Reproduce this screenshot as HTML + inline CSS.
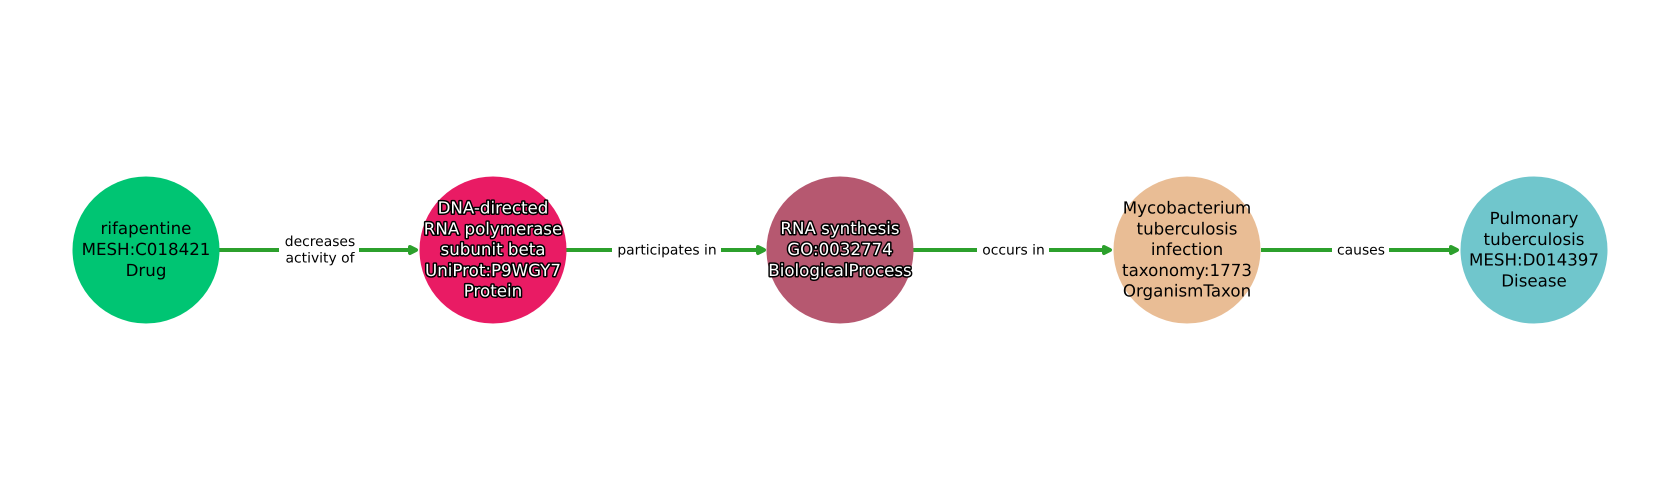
<!DOCTYPE html>
<html><head><meta charset="utf-8"><style>
html,body{margin:0;padding:0;background:#fff}
svg{display:block}
text{font-family:"DejaVu Sans",sans-serif;text-anchor:middle;text-rendering:geometricPrecision}
.n{font-size:16.67px;fill:#000}
.o{font-size:16.67px;fill:#fff;stroke:#000;stroke-width:3px;paint-order:stroke;stroke-linejoin:round}
.e{font-size:13.89px;fill:#000}
.l{stroke:#2ca02c;stroke-width:4;fill:none}
.a{fill:#2ca02c;stroke:#2ca02c;stroke-width:4;stroke-linejoin:round}
</style></head><body>
<svg width="1680" height="500" viewBox="0 0 1680 500" xmlns="http://www.w3.org/2000/svg">
<rect width="1680" height="500" fill="#fff"/>
<g class="l">
<path class="l" d="M219 250H279M359 250H410"/>
<path class="l" d="M566 250H612M721 250H758"/>
<path class="l" d="M913 250H977M1049 250H1104"/>
<path class="l" d="M1261 250H1332M1389 250H1451"/>
</g>
<path class="a" d="M410 247L416 250L410 253Z"/>
<path class="a" d="M758 247L764 250L758 253Z"/>
<path class="a" d="M1104 247L1110 250L1104 253Z"/>
<path class="a" d="M1451 247L1457 250L1451 253Z"/>
<circle cx="146" cy="250" r="73.5" fill="#00c573"/>
<circle cx="493" cy="250" r="73.5" fill="#e91b64"/>
<circle cx="840" cy="250" r="73.5" fill="#b65870"/>
<circle cx="1187" cy="250" r="73.5" fill="#e9bd95"/>
<circle cx="1534" cy="250" r="73.5" fill="#70c6cc"/>
<text class="n" x="146" y="234.2">rifapentine</text>
<text class="n" x="146" y="255">MESH:C018421</text>
<text class="n" x="146" y="275.8">Drug</text>
<text class="o" x="493" y="213.5">DNA-directed</text>
<text class="o" x="493" y="234.3">RNA polymerase</text>
<text class="o" x="493" y="255">subunit beta</text>
<text class="o" x="493" y="275.8">UniProt:P9WGY7</text>
<text class="o" x="493" y="296.6">Protein</text>
<text class="o" x="840" y="234.2">RNA synthesis</text>
<text class="o" x="840" y="255">GO:0032774</text>
<text class="o" x="840" y="275.8">BiologicalProcess</text>
<text class="n" x="1187" y="213.5">Mycobacterium</text>
<text class="n" x="1187" y="234.3">tuberculosis</text>
<text class="n" x="1187" y="255">infection</text>
<text class="n" x="1187" y="275.8">taxonomy:1773</text>
<text class="n" x="1187" y="296.6">OrganismTaxon</text>
<text class="n" x="1534" y="224">Pulmonary</text>
<text class="n" x="1534" y="244.8">tuberculosis</text>
<text class="n" x="1534" y="265.5">MESH:D014397</text>
<text class="n" x="1534" y="286.3">Disease</text>
<text class="e" x="320" y="246">decreases</text>
<text class="e" x="320" y="262.3">activity of</text>
<text class="e" x="667" y="254.5">participates in</text>
<text class="e" x="1013.5" y="254.5">occurs in</text>
<text class="e" x="1361" y="254.5">causes</text>
</svg>
</body></html>
